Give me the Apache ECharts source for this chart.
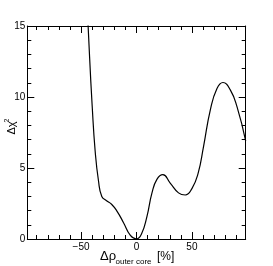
<!DOCTYPE html>
<html><head><meta charset="utf-8">
<script src="https://cdn.jsdelivr.net/npm/echarts@6/dist/echarts.min.js"></script>
<style>html,body{margin:0;padding:0;background:#fff}#c{width:273px;height:266px}</style>
</head><body><div id="c"></div>
<script>
const xValues = [-44.5,-42.3,-40.0,-37.3,-34.3,-31.3,-27,-22.5,-17.5,-11.7,-5.5,0,4.5,9.4,13.9,18.4,23.8,30.4,37.9,44,50,55.5,60.5,66.6,72.6,78,84.6,90.7,98.5];
const chi2 = [16.4,12.8,9.4,6.2,4.1,3.0,2.7,2.45,1.95,1.15,0.25,0,0.35,1.58,3.23,4.2,4.53,3.94,3.25,3.1,3.55,4.6,6.53,9.1,10.6,11.02,10.5,9.3,6.9];
const xMajorTicks = [-50,0,50];
const xMinorTicks = [-90,-80,-70,-60,-40,-30,-20,-10,10,20,30,40,60,70,80,90];
const yMin = 0, yMax = 15, yStep = 5;
const xMin = -98.5, xMax = 98.5;

const font = 'Liberation Sans, Arial, sans-serif';
const lineStyle = {color:'#000', width:1};
function xAxisDef(pos, ticks, len, showLine, showLabel){
  return {
    type:'value', position:pos, min:xMin, max:xMax,
    axisLine:{show:showLine, onZero:false, lineStyle},
    axisTick:{show:true, inside:true, length:len, customValues:ticks, lineStyle},
    axisLabel:{show:showLabel, customValues:ticks, margin:3, color:'#000', fontSize:10, fontFamily:font,
      formatter:v => v<0 ? '\u2212'+Math.abs(v) : String(v)},
    splitLine:{show:false}
  };
}
function yAxisDef(pos, showLabel){
  return {
    type:'value', position:pos, min:yMin, max:yMax, interval:yStep,
    axisLine:{show:true, onZero:false, lineStyle},
    axisTick:{show:true, inside:true, length:7, lineStyle},
    minorTick:{show:true, splitNumber:5, length:4, lineStyle},
    axisLabel:{show:showLabel, margin:2, color:'#000', fontSize:10, fontFamily:font},
    splitLine:{show:false}
  };
}
const chart = echarts.init(document.getElementById('c'), null, {renderer:'canvas'});
chart.setOption({
  animation:false,
  grid:{left:27.3, right:27.3, top:26, bottom:27, containLabel:false},
  xAxis:[
    xAxisDef('bottom', xMajorTicks, 7, true, true),
    xAxisDef('bottom', xMinorTicks, 4, false, false),
    xAxisDef('top', xMajorTicks, 7, true, false),
    xAxisDef('top', xMinorTicks, 4, false, false)
  ],
  yAxis:[ yAxisDef('left', true), yAxisDef('right', false) ],
  series:[{
    type:'line', xAxisIndex:0, yAxisIndex:0,
    data: xValues.map((x,i)=>[x, chi2[i]]),
    smooth:0.5, showSymbol:false, clip:true,
    lineStyle:{color:'#000', width:1.2}
  }],
  graphic:[
    {type:'text', x:100, y:256, style:{text:'Δρ', font:'13px '+font, fill:'#000', textVerticalAlign:'middle'}},
    {type:'text', x:115.5, y:262, style:{text:'outer core', font:'8px '+font, fill:'#000', textVerticalAlign:'middle'}},
    {type:'text', x:157, y:257, style:{text:'[%]', font:'12px '+font, fill:'#000', textVerticalAlign:'middle'}},
    {type:'text', x:11.5, y:128, rotation:Math.PI/2, style:{text:'Δχ', font:'11px '+font, fill:'#000', textAlign:'center', textVerticalAlign:'middle'}},
    {type:'text', x:7, y:120.5, rotation:Math.PI/2, style:{text:'2', font:'7px '+font, fill:'#000', textAlign:'center', textVerticalAlign:'middle'}}
  ]
});
</script></body></html>
